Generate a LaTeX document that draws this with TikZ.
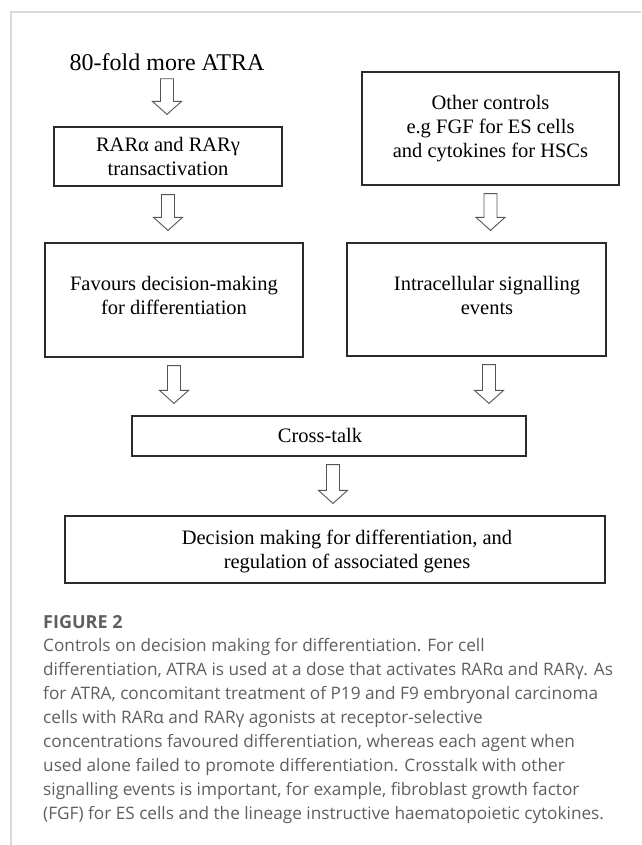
\documentclass[tikz,border=0pt]{standalone}
\usepackage{fontspec}
\setmainfont{Liberation Serif}
\newfontfamily\captionfont{Open Sans}
\usetikzlibrary{positioning, calc}

\definecolor{framegray}{HTML}{DADADA}
\definecolor{captiongray}{HTML}{5F5F5F}
\definecolor{boxline}{HTML}{2B2B2B}
\definecolor{arrowline}{HTML}{555555}

\tikzset{
  box/.style={draw=boxline, line width=1.2pt, fill=white, align=center,
    font=\fontsize{20.5}{24}\selectfont, inner sep=0pt},
  boxtext/.style={align=center, font=\fontsize{20.5}{24}\selectfont, inner sep=0pt},
  hollow/.style={draw=arrowline, line width=0.9pt, fill=white, line join=miter},
}

% hollow block arrow from one node down towards the next
\newcommand{\hollowarrow}[3][0pt]{%
  \draw[hollow] let \p1=([xshift=#1]#2.south), \p2=(#3.north) in
    (\x1-6.5pt,\y1-8pt) -- (\x1+6.5pt,\y1-8pt) -- (\x1+6.5pt,\y2+25pt)
    -- (\x1+14.5pt,\y2+25pt) -- (\x1,\y2+12pt) -- (\x1-14.5pt,\y2+25pt)
    -- (\x1-6.5pt,\y2+25pt) -- cycle;}

\begin{document}
\begin{tikzpicture}[x=1pt, y=-1pt]
\useasboundingbox (0,0) rectangle (641,845);

% card frame
\draw[framegray, line width=1.5pt] (11,845) -- (11,12) -- (641,12);

% left column
\node[inner sep=0pt, font=\fontsize{24}{28}\selectfont] (atra) at (167,62) {80-fold more ATRA};
\node[box, minimum width=228pt, minimum height=59pt] (rar) at (168,156.5)
  {RARα and RARγ\\transactivation};
\node[box, minimum width=258pt, minimum height=114pt] (favours) at (174,300) {};
\node[boxtext] (favourstext) at (174,295) {Favours decision-making\\for differentiation};

% right column
\node[box, minimum width=257pt, minimum height=113pt] (other) at (490.5,128.5)
  {Other controls\\e.g FGF for ES cells\\and cytokines for HSCs};
\node[box, minimum width=259pt, minimum height=113pt] (intra) at (476.5,299.5) {};
\node[boxtext] (intratext) at (487,295) {Intracellular signalling\\events};

% bottom
\node[box, minimum width=394pt, minimum height=40pt] (cross) at (329,436) {};
\node[boxtext] (crosstext) at (320,435) {Cross-talk};
\node[box, minimum width=540pt, minimum height=67pt] (decide) at (335,549.5) {};
\node[boxtext] (decidetext) at (347,551)
  {Decision making for differentiation, and\\regulation of associated genes};

% arrows
\hollowarrow{atra}{rar}
\hollowarrow{rar}{favours}
\hollowarrow{other}{intra}
\hollowarrow{favours}{cross}
\hollowarrow[12.5pt]{intra}{cross}
\hollowarrow[4pt]{cross}{decide}

% caption
\node[anchor=base west, inner sep=0pt, text=captiongray,
  font=\captionfont\bfseries\fontsize{18}{20}\selectfont] (figlabel) at (43,628) {FIGURE 2};
\node[anchor=base west, inner sep=0pt, align=left, text=captiongray,
  font=\captionfont\fontsize{17.2}{24}\selectfont] (captext) at (43,819)
  {Controls on decision making for differentiation. For cell\\
   differentiation, ATRA is used at a dose that activates RARα and RARγ. As\\
   for ATRA, concomitant treatment of P19 and F9 embryonal carcinoma\\
   cells with RARα and RARγ agonists at receptor-selective\\
   concentrations favoured differentiation, whereas each agent when\\
   used alone failed to promote differentiation. Crosstalk with other\\
   signalling events is important, for example, fibroblast growth factor\\
   (FGF) for ES cells and the lineage instructive haematopoietic cytokines.};
\end{tikzpicture}
\end{document}
